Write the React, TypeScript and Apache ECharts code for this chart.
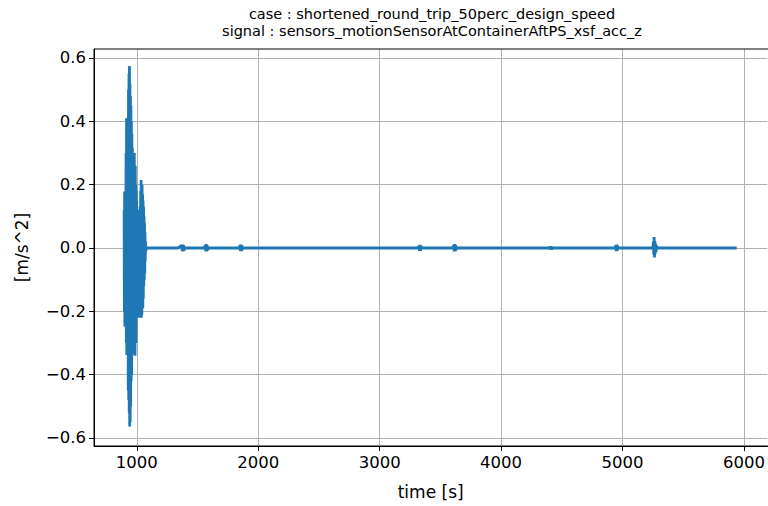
import React, { useEffect, useRef } from "react";
import * as echarts from "echarts";

const titleLines = [
  "case : shortened_round_trip_50perc_design_speed",
  "signal : sensors_motionSensorAtContainerAftPS_xsf_acc_z",
];
const xTicks = [1000, 2000, 3000, 4000, 5000, 6000];
const yTicks = [-0.6, -0.4, -0.2, 0.0, 0.2, 0.4, 0.6];

// burst of strong vibration (time [s], acceleration [m/s^2])
const burstTimes = [
  896, 898, 900, 902, 904, 906, 908, 910,
  912, 914, 916, 918, 920, 922, 924, 926, 928,
  930, 932, 934, 936, 938, 940, 942, 944, 946, 948, 950, 952, 954, 956, 958, 960,
  962, 964, 966, 968, 970, 972, 974, 976, 978, 980, 982, 984, 986, 988, 990, 992, 994, 996, 998, 1000,
  1002, 1004, 1006, 1008, 1010, 1012, 1014, 1016, 1018, 1020, 1022, 1024, 1026, 1028, 1030,
  1032, 1034, 1036, 1038, 1040, 1042, 1044, 1046, 1048, 1050, 1052, 1054, 1056,
  1058, 1060, 1062, 1064, 1066, 1068, 1070, 1072, 1074,
];
const burstValues = [
  0.12, -0.2, 0.178, -0.248, 0.15, -0.22, 0.17, -0.18,
  0.3, -0.3, 0.41, -0.338, 0.36, -0.32, 0.4, -0.3, 0.38,
  -0.45, 0.5, -0.48, 0.55, -0.52, 0.575, -0.564, 0.52, -0.55, 0.48, -0.5, 0.45, -0.42, 0.4, -0.4, 0.36,
  -0.338, 0.316, -0.3, 0.3, -0.33, 0.28, -0.32, 0.25, -0.3, 0.3, -0.28, 0.22, -0.34, 0.26, -0.25, 0.2, -0.3, 0.18, -0.22, 0.15,
  -0.2, 0.12, -0.22, 0.11, -0.18, 0.12, -0.2, 0.1, -0.21, 0.12, -0.19, 0.11, -0.22, 0.13, -0.18,
  0.18, -0.2, 0.215, -0.22, 0.19, -0.21, 0.2, -0.18, 0.17, -0.19, 0.15, -0.16, 0.13,
  -0.12, 0.1, -0.1, 0.08, -0.08, 0.05, -0.04, 0.02, -0.01,
];
// quiet part with small events
const quietTimes = [
  1080, 1340, 1370, 1374, 1378, 1382, 1386, 1390, 1396,
  1560, 1564, 1568, 1572, 1576, 1580, 1584, 1590,
  1845, 1850, 1854, 1858, 1862, 1866, 1870, 1876,
  3320, 3324, 3328, 3332, 3336, 3340, 3346,
  3605, 3610, 3614, 3618, 3622, 3626, 3630, 3636,
  4400, 4404, 4408, 4412, 4416, 4422,
  4940, 4944, 4948, 4952, 4956, 4960, 4966,
  5250, 5254, 5257, 5260, 5263, 5266, 5269, 5272, 5276, 5280, 5290, 5940,
];
const quietValues = [
  0, 0, 0.008, -0.009, 0.011, -0.011, 0.009, -0.007, 0,
  0, 0.009, -0.011, 0.012, -0.011, 0.009, -0.006, 0,
  0, 0.009, -0.01, 0.011, -0.01, 0.008, -0.005, 0,
  0, 0.008, -0.009, 0.01, -0.009, 0.006, 0,
  0, 0.009, -0.011, 0.012, -0.011, 0.009, -0.005, 0,
  0, 0.005, -0.006, 0.006, -0.004, 0,
  0, 0.009, -0.01, 0.011, -0.009, 0.006, 0,
  0, 0.02, -0.022, 0.035, -0.03, 0.022, -0.02, 0.014, -0.012, 0.006, 0, 0,
];

const FONT = "DejaVu Sans";

export default function App() {
  const ref = useRef<HTMLDivElement>(null);
  useEffect(() => {
    if (!ref.current) return;
    const chart = echarts.init(ref.current, null, { renderer: "svg" });
    const data: [number, number][] = [];
    burstTimes.forEach((t, i) => data.push([t, burstValues[i]]));
    quietTimes.forEach((t, i) => data.push([t, quietValues[i]]));
    const fmtY = (v: number) => (v < -1e-9 ? "\u2212" + Math.abs(v).toFixed(1) : Math.abs(v).toFixed(1));
    chart.setOption({
      animation: false,
      backgroundColor: "#ffffff",
      title: {
        text: titleLines.join("\n"),
        left: 432,
        top: 5,
        padding: 0,
        textAlign: "center",
        textStyle: { fontFamily: FONT, fontSize: 14.5, fontWeight: "normal", color: "#000", lineHeight: 17 },
      },
      grid: { left: 94, top: 49, width: 677, height: 397 },
      xAxis: {
        type: "value",
        min: 648,
        max: 6192,
        name: "time [s]",
        nameLocation: "middle",
        nameGap: 37,
        nameTextStyle: { fontFamily: FONT, fontSize: 17, color: "#000" },
        axisLine: { show: true, onZero: false, lineStyle: { color: "#000", width: 1 } },
        axisTick: { show: true, length: 5, lineStyle: { color: "#000" }, customValues: xTicks },
        axisLabel: {
          customValues: xTicks,
          fontFamily: FONT,
          fontSize: 16.5,
          color: "#000",
          margin: 8,
          formatter: (v: number) => String(v),
        },
        splitLine: { show: true, lineStyle: { color: "#b0b0b0", width: 1 } },
      },
      yAxis: {
        type: "value",
        min: -0.6253,
        max: 0.6284,
        name: "[m/s^2]",
        nameLocation: "middle",
        nameRotate: 90,
        nameGap: 64,
        nameTextStyle: { fontFamily: FONT, fontSize: 17, color: "#000" },
        axisLine: { show: true, onZero: false, lineStyle: { color: "#000", width: 1 } },
        axisTick: { show: true, length: 5, lineStyle: { color: "#000" }, customValues: yTicks },
        axisLabel: { customValues: yTicks, fontFamily: FONT, fontSize: 16.5, color: "#000", margin: 8, formatter: fmtY },
        splitLine: { show: true, lineStyle: { color: "#b0b0b0", width: 1 } },
      },
      graphic: [
        {
          type: "rect",
          shape: { x: 94, y: 49, width: 677, height: 397 },
          style: { fill: "none", stroke: "#000", lineWidth: 1 },
          z: 100,
          silent: true,
        },
      ],
      series: [
        {
          type: "line",
          data,
          showSymbol: false,
          symbol: "none",
          lineStyle: { color: "#1f77b4", width: 2.8 },
          itemStyle: { color: "#1f77b4" },
        },
      ],
    });
    return () => chart.dispose();
  }, []);
  return <div ref={ref} style={{ position: "fixed", left: 0, top: 0, width: 768, height: 506 }} />;
}
